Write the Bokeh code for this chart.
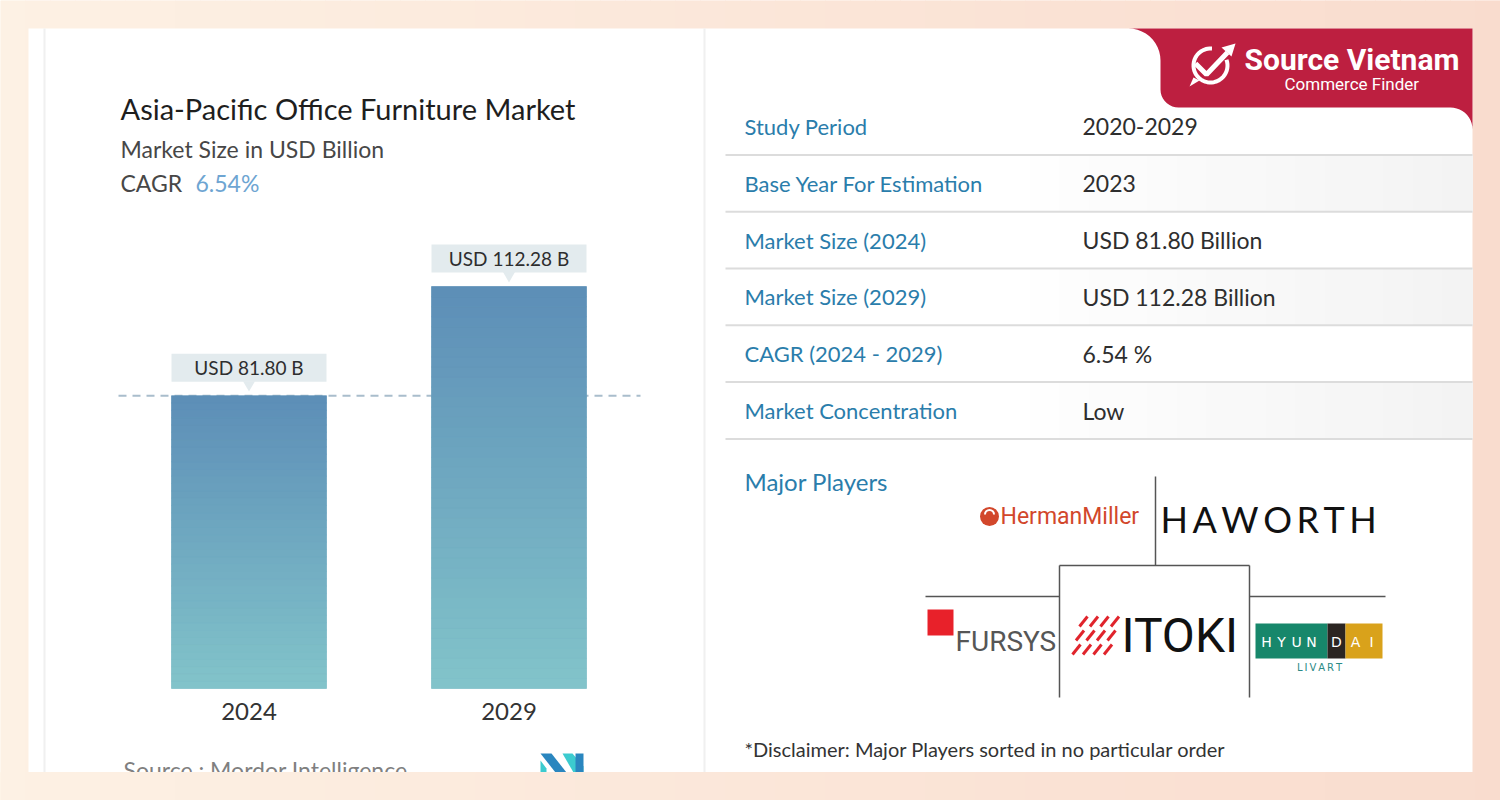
import numpy as np
from bokeh.plotting import figure
from bokeh.models import Range1d
from bokeh.core.properties import value
from bokeh.embed import file_html
from bokeh.resources import INLINE

# ---------------- data ----------------
years = ["2024", "2029"]
market_size = [81.80, 112.28]
bar_labels = ["USD 81.80 B", "USD 112.28 B"]

chart_title = "Asia-Pacific Office Furniture Market"
chart_subtitle = "Market Size in USD Billion"
cagr_label = "CAGR"
cagr_value = "6.54%"
source_text = "Source :  Mordor Intelligence"

table_labels = ["Study Period", "Base Year For Estimation", "Market Size (2024)",
                "Market Size (2029)", "CAGR (2024 - 2029)", "Market Concentration"]
table_values = ["2020-2029", "2023", "USD 81.80 Billion", "USD 112.28 Billion",
                "6.54 %", "Low"]
players_title = "Major Players"
disclaimer = "*Disclaimer: Major Players sorted in no particular order"
brand = "Source Vietnam"
brand_sub = "Commerce Finder"

# ---------------- layout constants ----------------
FONT = "Lato"
PX_L, PX_R, PX_T, PX_B = 0, 1500, 0, 800      # page pixels covered by the frame
BASE_PX = 688                                 # baseline of the bars (page row)
PX_PER_B = 3.58                               # pixels per USD billion
CAT0_PX, CAT_STEP = 248.5, 260.0              # first category centre, spacing
BAR_W = 155 / CAT_STEP

p = figure(width=PX_R - PX_L, height=PX_B - PX_T,
           x_range=Range1d(PX_L, PX_R), y_range=Range1d(PX_B, PX_T),
           x_axis_type=None, y_axis_type=None,
           output_backend="svg", toolbar_location=None, min_border=0)
p.grid.visible = False
p.outline_line_color = None
p.background_fill_color = "#ffffff"
p.border_fill_color = "#ffffff"

p.extra_x_ranges = {"cat": Range1d((PX_L - CAT0_PX) / CAT_STEP, (PX_R - CAT0_PX) / CAT_STEP)}
p.extra_y_ranges = {"val": Range1d(-(PX_B - BASE_PX) / PX_PER_B, (BASE_PX - PX_T) / PX_PER_B)}


def px2val(px):
    return px / PX_PER_B


def txt(x, y, s, size, color, font=FONT, align="left", style="normal", **kw):
    p.text(x=[x], y=[y], text=[s], text_font=value(font), text_font_size=f"{size}px",
           text_color=color, text_align=align, text_baseline="middle",
           text_font_style=style, **kw)


def hexc(c):
    return "#%02x%02x%02x" % tuple(int(round(v)) for v in c)


# ---------------- peach background ----------------
n = 60
edges = np.linspace(PX_L, PX_R, n + 1)
c0 = np.array([253, 241, 228])
c1 = np.array([249, 220, 206])
peach = [hexc(c0 + (c1 - c0) * t) for t in (np.arange(n) + 0.5) / n]
p.quad(left=edges[:-1], right=edges[1:], top=PX_T, bottom=PX_B,
       fill_color=peach, line_color=peach)

# white card
p.quad(left=[28], right=[1472], top=[28], bottom=[772], fill_color="#ffffff", line_color=None)
p.segment(x0=[44, 704], x1=[44, 704], y0=[28, 28], y1=[772, 772],
          line_color="#f0f0f0", line_width=2)

# ---------------- left: chart header ----------------
txt(120, 108, chart_title, 29, "#1e1e1e")
txt(120, 148, chart_subtitle, 23, "#474747")
txt(120, 182, cagr_label, 23, "#474747")
txt(195, 182, cagr_value, 23, "#6ea5d2")

# dashed reference line at first bar value
p.segment(x0=[118], x1=[640], y0=[market_size[0]], y1=[market_size[0]], y_range_name="val",
          line_color="#a9bdcc", line_width=2, line_dash="8 6")

# bars
cat_idx = np.arange(len(years))
p.vbar(x=cat_idx, top=market_size, bottom=0, width=BAR_W,
       x_range_name="cat", y_range_name="val", fill_color="#6fa7c0", line_color=None)
top_c = np.array([93, 142, 183])
bot_c = np.array([130, 196, 202])
NB = 40
for i, v in enumerate(market_size):
    ks = np.arange(NB)
    bots = v * ks / NB
    tops = v * (ks + 1) / NB
    cols = [hexc(bot_c + (top_c - bot_c) * (k + 0.5) / NB) for k in ks]
    p.quad(left=i - BAR_W / 2, right=i + BAR_W / 2, bottom=bots, top=tops,
           x_range_name="cat", y_range_name="val", fill_color=cols, line_color=cols,
           line_width=0.5)

# call-out labels
call_y = [v + px2val(28) for v in market_size]
p.rect(x=cat_idx, y=call_y, width=BAR_W, height=px2val(28),
       x_range_name="cat", y_range_name="val", fill_color="#e3ebee", line_color=None)
p.scatter(x=cat_idx, y=[v + px2val(11) for v in market_size], marker="inverted_triangle",
          size=12, x_range_name="cat", y_range_name="val", fill_color="#e3ebee", line_color=None)
p.text(x=cat_idx, y=call_y, text=bar_labels, x_range_name="cat", y_range_name="val",
       text_font=value(FONT), text_font_size="19px", text_color="#2e2e2e",
       text_align="center", text_baseline="middle")

# category labels
p.text(x=cat_idx, y=[711] * len(years), text=years, x_range_name="cat",
       text_font=value(FONT), text_font_size="24px", text_color="#333333",
       text_align="center", text_baseline="middle")

# source + logo (cut by bottom band)
txt(123, 769, source_text, 23, "#808080")
p.patches(xs=[[540, 551, 566, 555], [562, 572, 583, 583, 573], [575, 583, 583, 575], [540, 546, 546, 540]],
          ys=[[753, 753, 772, 772], [753, 753, 766, 772, 772], [753, 753, 772, 772], [760, 768, 772, 772]],
          fill_color=["#2a86bf", "#3ccbcf", "#2a86bf", "#3ccbcf"], line_color=None)

# bottom peach band (covers overflowing source line)
p.quad(left=edges[:-1], right=edges[1:], top=772, bottom=PX_B,
       fill_color=peach, line_color=peach)

# ---------------- right: key facts table ----------------
ROW0, ROW_H = 126, 56.8
row_y = [ROW0 + ROW_H * k for k in range(len(table_labels))]
# subtle shading on alternate rows
ns = 16
sx = np.linspace(1000, 1472, ns + 1)
for k in range(1, len(table_labels), 2):
    y_top = row_y[k] - ROW_H / 2
    y_bot = row_y[k] + ROW_H / 2
    shade = [hexc(np.array([255, 255, 255]) + (np.array([243, 243, 243]) - 255) * (j + 0.5) / ns)
             for j in range(ns)]
    p.quad(left=sx[:-1], right=sx[1:], top=y_top, bottom=y_bot, fill_color=shade, line_color=shade)

sep_y = [y + ROW_H / 2 for y in row_y]
p.segment(x0=[725] * len(sep_y), x1=[1472] * len(sep_y), y0=sep_y, y1=sep_y,
          line_color="#dcdcdc", line_width=2)
p.text(x=[744] * len(row_y), y=row_y, text=table_labels, text_font=value(FONT),
       text_font_size="22px", text_color="#2a7dab", text_baseline="middle")
p.text(x=[1082] * len(row_y), y=row_y, text=table_values, text_font=value(FONT),
       text_font_size="23px", text_color="#2e2e2e", text_baseline="middle")

txt(744, 481, players_title, 24, "#2a7dab")
txt(744, 748, disclaimer, 20, "#333333")

# player logo frame
p.segment(x0=[1155, 1059, 1059, 1249, 925, 1249], x1=[1155, 1249, 1059, 1249, 1059, 1385],
          y0=[476, 565, 565, 565, 596, 596], y1=[565, 565, 697, 697, 596, 596],
          line_color="#555555", line_width=1.5)

# Herman Miller
p.scatter(x=[989], y=[516], size=19, fill_color="#d2472b", line_color=None)
p.arc(x=[989], y=[514], radius=4.5, start_angle=0.0, end_angle=np.pi, direction="anticlock",
      line_color="#ffffff", line_width=2)
txt(1000, 516, "HermanMiller", 23, "#d2472b", font="Roboto")

# Haworth
txt(1160, 518, "H\u2009A\u2009W\u2009O\u2009R\u2009T\u2009H", 36, "#111111", font="Lato")

# Fursys
p.quad(left=[927], right=[953], top=[609], bottom=[635], fill_color="#e8212a", line_color=None)
txt(955, 641, "FURSYS", 28, "#565656", font="Roboto")

# Itoki
dx0, dy0 = [], []
dx1, dy1 = [], []
for r in range(3):
    for c in range(4):
        xb = 1072 + 10.5 * c + (2 - r) * 3.5
        yb = 626 + 14 * r
        dx0.append(xb); dy0.append(yb)
        dx1.append(xb + 8); dy1.append(yb - 10)
p.segment(x0=dx0, y0=dy0, x1=dx1, y1=dy1, line_color="#e0242c", line_width=3)
txt(1121, 635, "ITOKI", 48, "#111111", font="Roboto")

# Hyundai Livart
p.quad(left=[1255, 1327, 1345], right=[1327, 1345, 1382], top=[623] * 3, bottom=[658] * 3,
       fill_color=["#17876b", "#2b2522", "#d9a21b"], line_color=None)
hx = [1266, 1281, 1296, 1311, 1336, 1355, 1371]
p.text(x=hx, y=[641] * 7, text=list("HYUNDAI"), text_font=value("DejaVu Sans"),
       text_font_size="14px", text_color="#ffffff", text_align="center", text_baseline="middle")
txt(1319, 667, "L\u2009I\u2009V\u2009A\u2009R\u2009T", 10, "#2a8a86", font="DejaVu Sans", align="center")

# ---------------- brand badge ----------------
bx, by = [], []
t = np.linspace(-np.pi / 2, 0, 12)
bx += list(1128 + 32 * np.cos(t)); by += list(60 + 32 * np.sin(t))
t = np.linspace(np.pi, np.pi / 2, 10)
bx += list(1178 + 18 * np.cos(t)); by += list(89 + 18 * np.sin(t))
t = np.linspace(-np.pi / 2, 0, 12)
bx += list(1450 + 22 * np.cos(t)); by += list(129 + 22 * np.sin(t))
bx += [1472, 1472]; by += [129, 28]
p.patch(x=bx, y=by, fill_color="#bd1f40", line_color=None)

# icon
t = np.linspace(np.radians(-20), np.radians(275), 40)
p.line(x=1210 + 17 * np.cos(t), y=65 + 17 * np.sin(t), line_color="#ffffff", line_width=4)
p.line(x=[1195, 1206, 1227], y=[63, 74, 52], line_color="#ffffff", line_width=5)
p.patch(x=[1235, 1221, 1231], y=[43, 47, 56], fill_color="#ffffff", line_color=None)
p.patch(x=[1189, 1199, 1193], y=[86, 80, 77], fill_color="#ffffff", line_color=None)

txt(1244, 59, brand, 30, "#ffffff", font="Roboto", style="bold")
txt(1284, 83, brand_sub, 17, "#ffffff", font="Roboto")

open("out.html", "w").write(file_html(p, INLINE))
